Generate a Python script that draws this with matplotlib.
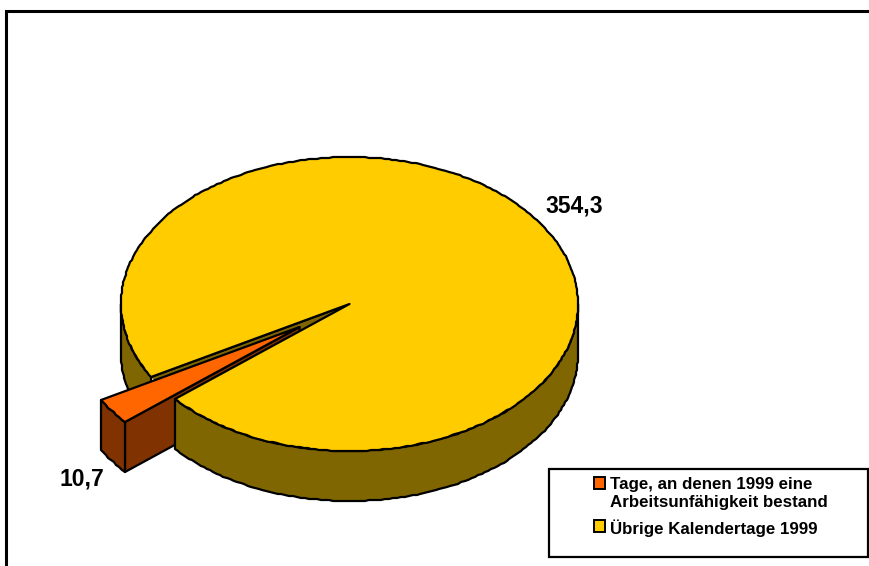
import numpy as np
import matplotlib
matplotlib.use('Agg')
import matplotlib.pyplot as plt
from matplotlib.patches import Polygon, Rectangle

# days in 1999
categories = ['Tage, an denen 1999 eine\nArbeitsunfähigkeit bestand', 'Übrige Kalendertage 1999']
values = [10.7, 354.3]
value_labels = ['10,7', '354,3']

ORANGE = '#ff6600'
ORANGE_DARK = '#803300'
YELLOW = '#ffcc00'
YELLOW_DARK = '#806600'

CX, CY = 349.5, 304
RX, RY = 228.5, 147
DEPTH = 50
START = 209.7
EXPLODE = (-50, 23)
STEP = 1.0  # degrees between rim points
GRID = 1.0  # pixel snap, gives the slightly bumpy edge of the old export


def rim(a0, a1, dx=0, dy=0):
    n = max(int(abs(a1 - a0) / STEP), 2)
    t = np.radians(np.linspace(a0, a1, n))
    x = CX + RX * np.cos(t)
    y = CY - RY * np.sin(t)
    x = np.round(x / GRID) * GRID + dx
    y = np.round(y / GRID) * GRID + dy
    return np.column_stack([x, y])


def poly(ax, pts, color, **kw):
    p = Polygon(pts, closed=True, facecolor=color, edgecolor='black',
                linewidth=1.6, joinstyle='round', **kw)
    ax.add_patch(p)
    return p


def draw_pie(ax):
    sweep = [v / sum(values) * 360 for v in values]
    a_start = START
    a_end = START + sweep[0]
    centre = np.array([[CX, CY]])
    ex, ey = EXPLODE

    # left wall of the big slice, behind the pulled out piece
    left = rim(180, a_start)
    poly(ax, np.vstack([left, rim(a_start, 180, 0, DEPTH)]), YELLOW_DARK)

    # inner cut face, only seen through the gap
    gap = np.vstack([centre, rim(a_start, a_end)])
    p_edge = rim(a_start, a_start)[0]
    face = poly(ax, [(CX, CY), p_edge, p_edge + [0, DEPTH], (CX, CY + DEPTH)], YELLOW_DARK)
    clip = Polygon(gap, closed=True, transform=ax.transData)
    face.set_clip_path(clip)

    # pulled out slice
    top = rim(a_start, a_end, ex, ey)
    tip = np.array([CX + ex, CY + ey])
    corner = top[-1]
    poly(ax, [tip, corner, corner + [0, DEPTH], tip + [0, DEPTH]], ORANGE_DARK)
    poly(ax, np.vstack([top, rim(a_end, a_start, ex, ey + DEPTH)]), ORANGE_DARK)
    poly(ax, np.vstack([[tip], top]), ORANGE)

    # big slice, wall first then top
    front = rim(a_end, 360)
    poly(ax, np.vstack([front, rim(360, a_end, 0, DEPTH)]), YELLOW_DARK)
    poly(ax, np.vstack([centre, rim(a_end, a_start + 360)]), YELLOW)


def draw_legend(ax):
    ax.add_patch(Rectangle((549, 469), 319, 88, facecolor='white', edgecolor='black', linewidth=1.6))
    colors = [ORANGE, YELLOW]
    swatch_y = [477, 520]
    text_y = [477, 519]
    for name, c, sy, ty in zip(categories, colors, swatch_y, text_y):
        ax.add_patch(Rectangle((594, sy), 11.5, 11.5, facecolor=c, edgecolor='black', linewidth=1.4))
        ax.text(610, ty, name, fontsize=12.2, fontweight='bold', va='top', ha='left',
                linespacing=1.28, color='black')


def main():
    plt.rcParams['font.family'] = ['Liberation Sans', 'DejaVu Sans']
    fig = plt.figure(figsize=(8.7, 5.66), dpi=100)
    ax = fig.add_axes([0, 0, 1, 1])
    ax.set_xlim(0, 870)
    ax.set_ylim(566, 0)
    ax.axis('off')

    # outer frame runs off the right and bottom edge
    ax.plot([6.5, 6.5, 872], [570, 10.5, 10.5], color='black', linewidth=2.2, solid_joinstyle='miter')

    draw_pie(ax)
    ax.text(81.5, 479, value_labels[0], fontsize=16.5, fontweight='bold', ha='center', va='center')
    ax.text(574, 206, value_labels[1], fontsize=16.5, fontweight='bold', ha='center', va='center')
    draw_legend(ax)

    fig.savefig('out.png', dpi=100)


if __name__ == "__main__":
    main()
